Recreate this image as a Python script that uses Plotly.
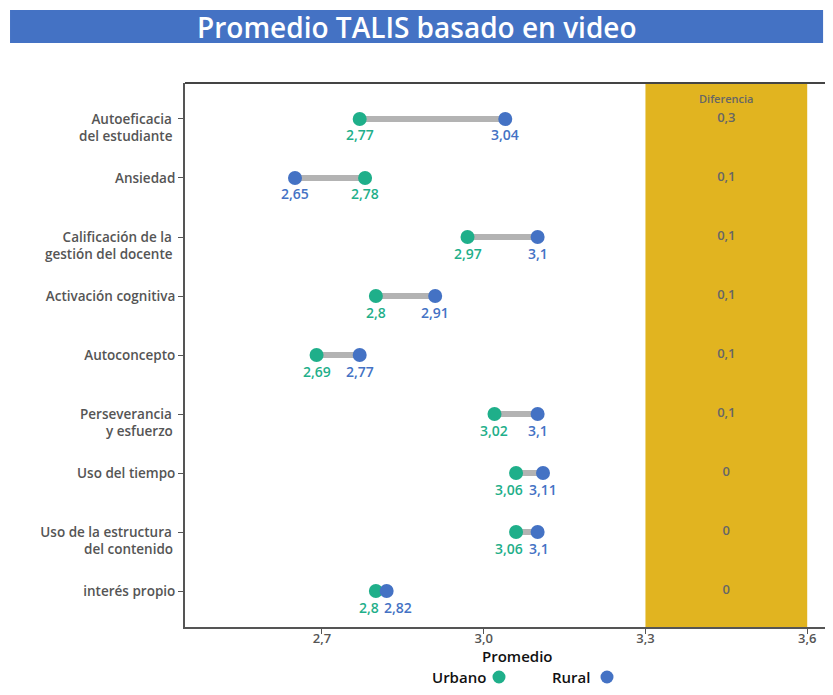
import plotly.graph_objects as go

categories = ["Autoeficacia <br>del estudiante", "Ansiedad", "Calificación de la <br>gestión del docente",
              "Activación cognitiva", "Autoconcepto", "Perseverancia <br>y esfuerzo", "Uso del tiempo",
              "Uso de la estructura <br>del contenido", "interés propio"]
urbano = [2.77, 2.78, 2.97, 2.8, 2.69, 3.02, 3.06, 3.06, 2.8]
rural = [3.04, 2.65, 3.1, 2.91, 2.77, 3.1, 3.11, 3.1, 2.82]
diferencia = ["0,3", "0,1", "0,1", "0,1", "0,1", "0,1", "0", "0", "0"]
x_ticks = [2.7, 3.0, 3.3, 3.6]
x_tick_labels = ["2,7", "3,0", "3,3", "3,6"]

GREEN = "#1FAF8A"
BLUE = "#4472C4"
GOLD = "#E1B420"
FONT = "Open Sans"
TICK_GRAY = "#555555"
YT_SIZE = 13.5

X0, X1 = 2.446, 3.633
PLOT_W = 640.0
PLOT_H = 544.0
PX_PER_UNIT = PLOT_W / (X1 - X0)
CHAR_W = 7.6


def fmt(v):
    s = f"{v:.2f}".rstrip("0").rstrip(".")
    return s.replace(".", ",")


fig = go.Figure()

# difference column background
fig.add_shape(type="rect", xref="x", yref="paper", x0=3.3, x1=3.6, y0=0, y1=1,
              fillcolor=GOLD, line_width=0, layer="below")

# connecting lines
for c, u, r in zip(categories, urbano, rural):
    fig.add_trace(go.Scatter(x=[u, r], y=[c, c], mode="lines",
                             line=dict(color="#B3B3B3", width=6),
                             showlegend=False, hoverinfo="skip"))

fig.add_trace(go.Scatter(x=urbano, y=categories, mode="markers", name="Urbano",
                         marker=dict(color=GREEN, size=14), showlegend=False))
fig.add_trace(go.Scatter(x=rural, y=categories, mode="markers", name="Rural",
                         marker=dict(color=BLUE, size=14), showlegend=False))

# value labels (pushed apart when the two points are close)
for c, u, r in zip(categories, urbano, rural):
    tu, tr = fmt(u), fmt(r)
    wu, wr = len(tu) * CHAR_W, len(tr) * CHAR_W
    gap = abs(r - u) * PX_PER_UNIT
    su, sr = 0.0, 0.0
    if gap < (wu + wr) / 2 + 3:
        if u <= r:
            su = -7.0
            right_edge = u * PX_PER_UNIT + su + wu / 2
            sr = max(0.0, right_edge + 3 - (r * PX_PER_UNIT - wr / 2))
        else:
            sr = -7.0
            right_edge = r * PX_PER_UNIT + sr + wr / 2
            su = max(0.0, right_edge + 3 - (u * PX_PER_UNIT - wu / 2))
    for val, txt, col, sh in [(u, tu, GREEN, su), (r, tr, BLUE, sr)]:
        fig.add_annotation(x=val, y=c, xref="x", yref="y", text=txt, showarrow=False,
                           xanchor="center", yanchor="middle", xshift=sh, yshift=-16,
                           font=dict(color=col, size=14, family=FONT, weight=600))

# difference values
fig.add_trace(go.Scatter(x=[3.45] * len(categories), y=categories, mode="text",
                         text=diferencia, textposition="middle center",
                         textfont=dict(color="#666666", size=13, family=FONT, weight=600),
                         showlegend=False, hoverinfo="skip"))

fig.add_annotation(x=3.45, xref="x", y=0.9724, yref="paper", text="Diferencia",
                   showarrow=False, yanchor="middle",
                   font=dict(color="#666666", size=11, family=FONT, weight=600))

# category labels: first line as tick text, second line right below it
first_lines = [c.split("<br>")[0] for c in categories]
for c in categories:
    parts = c.split("<br>")
    if len(parts) > 1:
        fig.add_annotation(x=-10 / PLOT_W, xref="paper", y=c, yref="y", text=parts[1],
                           showarrow=False, xanchor="right", yanchor="middle", yshift=-17,
                           font=dict(color=TICK_GRAY, size=YT_SIZE, family=FONT, weight=600))

# title bar
fig.add_shape(type="rect", xref="paper", yref="paper", x0=-0.2734, x1=0.997,
              y0=1 + 40 / PLOT_H, y1=1 + 73 / PLOT_H, fillcolor=BLUE, line_width=0)
fig.add_annotation(x=(416.5 - 185) / PLOT_W, xref="paper", y=1 + 56 / PLOT_H, yref="paper",
                   xanchor="center", yanchor="middle",
                   text="Promedio TALIS basado en video", showarrow=False,
                   font=dict(color="white", size=28, family=FONT, weight=600))

# top border
fig.add_shape(type="line", xref="paper", yref="paper", x0=0, x1=1, y0=1, y1=1,
              line=dict(color="#444444", width=2))

# axis title
fig.add_annotation(x=(517 - 185) / PLOT_W, xref="paper", y=-29 / PLOT_H, yref="paper",
                   xanchor="center", yanchor="middle", text="Promedio", showarrow=False,
                   font=dict(color="#111111", size=15, family=FONT, weight=600))

# legend
leg_y = -50 / PLOT_H
fig.add_annotation(x=(488 - 185) / PLOT_W, xref="paper", y=leg_y, yref="paper", xanchor="right",
                   yanchor="middle", text="Urbano", showarrow=False,
                   font=dict(color="#111111", size=15, family=FONT, weight=600))
fig.add_annotation(x=(592 - 185) / PLOT_W, xref="paper", y=leg_y, yref="paper", xanchor="right",
                   yanchor="middle", text="Rural", showarrow=False,
                   font=dict(color="#111111", size=15, family=FONT, weight=600))
for cx, col in [(499, GREEN), (607, BLUE)]:
    px = (cx - 185) / PLOT_W
    fig.add_shape(type="circle", xref="paper", yref="paper",
                  x0=px - 6.5 / PLOT_W, x1=px + 6.5 / PLOT_W,
                  y0=leg_y - 6.5 / PLOT_H, y1=leg_y + 6.5 / PLOT_H,
                  fillcolor=col, line_width=0)

fig.update_xaxes(range=[X0, X1], tickvals=x_ticks, ticktext=x_tick_labels,
                 ticks="outside", ticklen=5, tickcolor=TICK_GRAY, ticklabelstandoff=-7,
                 showline=True, linecolor=TICK_GRAY, linewidth=2, showgrid=False, zeroline=False,
                 tickfont=dict(color=TICK_GRAY, size=13, family=FONT, weight=600))
fig.update_yaxes(categoryorder="array", categoryarray=categories, autorange=False,
                 tickvals=categories, ticktext=first_lines,
                 range=[8.61, -0.61], ticks="outside", ticklen=5, tickcolor=TICK_GRAY,
                 showline=True, linecolor=TICK_GRAY, linewidth=2, showgrid=False, zeroline=False,
                 tickfont=dict(color=TICK_GRAY, size=YT_SIZE, family=FONT, weight=600))

fig.update_layout(width=817, height=679, margin=dict(l=177, r=0, t=75, b=60),
                  plot_bgcolor="white", paper_bgcolor="white", showlegend=False)

fig.write_html("out.html")
